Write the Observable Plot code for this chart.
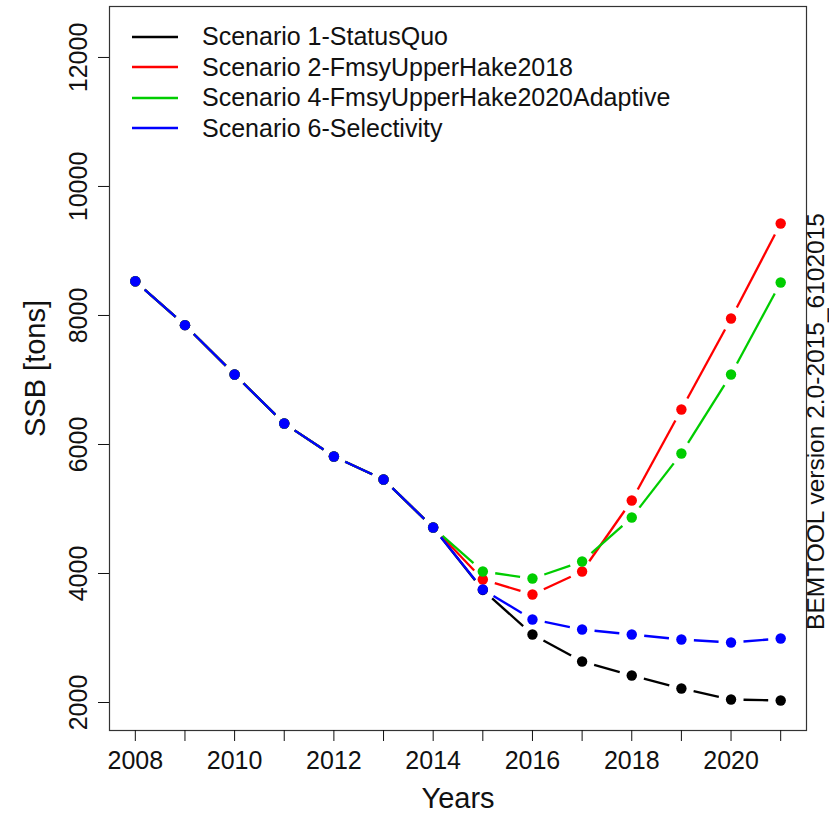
<!DOCTYPE html>
<html><head><meta charset="utf-8">
<script src="https://cdn.jsdelivr.net/npm/d3@7"></script>
<script src="https://cdn.jsdelivr.net/npm/@observablehq/plot@0.6"></script>
<style>
html,body{margin:0;padding:0;background:#fff;overflow:hidden}
#wrap{position:relative;width:829px;height:820px;font-family:"Liberation Sans",Arial,sans-serif}
#legend{position:absolute;left:132px;top:21.8px}
.row{display:flex;align-items:center;height:30.4px;font-size:25px;color:#111;white-space:nowrap}
.row svg{margin-right:24px;display:block}
</style></head><body><div id="wrap"><div id="legend"></div></div>
<script>
const years = [2008,2009,2010,2011,2012,2013,2014,2015,2016,2017,2018,2019,2020,2021];
const scenarioNames = ["Scenario 1-StatusQuo","Scenario 2-FmsyUpperHake2018","Scenario 4-FmsyUpperHake2020Adaptive","Scenario 6-Selectivity"];
const scenarioColors = ["#000000","#FF0000","#00CD00","#0000FF"];
const scenario1 = [8530,7850,7085,6326,5814,5457,4713,3745,3054,2636,2419,2217,2047,2031];
const scenario2 = [8530,7850,7085,6326,5814,5457,4713,3907,3674,4031,5132,6543,7953,9426];
const scenario4 = [8530,7850,7085,6326,5814,5457,4713,4031,3922,4186,4868,5860,7085,8512];
const scenario6 = [8530,7850,7085,6326,5814,5457,4713,3752,3287,3132,3054,2977,2930,2992];
const yTicks = [2000,4000,6000,8000,10000,12000];
const xLabels = [2008,2010,2012,2014,2016,2018,2020];
const xLabelText = "Years";
const yLabelText = "SSB [tons]";
const sideText = "BEMTOOL version 2.0-2015_6102015";

const allSeries = [scenario1, scenario2, scenario4, scenario6];
const marks = [Plot.frame({stroke:"#333", strokeWidth:1.2})];
allSeries.forEach((vals, i) => {
  const pts = years.map((yr, j) => ({year: yr, ssb: vals[j]}));
  const segs = years.slice(1).map((yr, j) => ({x1: years[j], y1: vals[j], x2: yr, y2: vals[j + 1]}));
  // R type="b": segments stop short of each point
  marks.push(Plot.arrow(segs, {x1:"x1", y1:"y1", x2:"x2", y2:"y2", stroke: scenarioColors[i], strokeWidth: 2.3, headLength: 0, bend: 0, insetStart: 12.5, insetEnd: 12.5, strokeLinecap: "butt"}));
  marks.push(Plot.dot(pts, {x:"year", y:"ssb", fill: scenarioColors[i], r: 5.2}));
});
marks.push(
  Plot.axisX({ticks: years, tickSize: 11, tickPadding: 10, tickFormat: d => xLabels.includes(d) ? String(d) : "", label: null}),
  Plot.axisY({ticks: yTicks, tickSize: 11, tickFormat: () => "", label: null}),
  Plot.text(yTicks, {y: d => d, text: d => String(d), frameAnchor: "left", dx: -31, rotate: -90, fontSize: 25, textAnchor: "middle"}),
  Plot.text([xLabelText], {text: d => d, frameAnchor: "bottom", dy: 77, fontSize: 29, textAnchor: "middle"}),
  Plot.text([yLabelText], {text: d => d, frameAnchor: "left", dx: -74, rotate: -90, fontSize: 29, textAnchor: "middle"}),
  Plot.text([sideText], {text: d => d, frameAnchor: "right", dx: 10, dy: 53, rotate: -90, fontSize: 24.5, textAnchor: "middle"})
);

const plot = Plot.plot({
  width: 829, height: 820,
  marginLeft: 109, marginRight: 23, marginTop: 6, marginBottom: 90,
  x: {domain: [2007.48, 2021.52]},
  y: {domain: [1566, 12790]},
  style: {fontFamily: '"Liberation Sans", Arial, sans-serif', fontSize: "25px", color: "#111", background: "#fff"},
  marks
});
document.getElementById("wrap").appendChild(plot);

// legend
const legend = document.getElementById("legend");
scenarioNames.forEach((name, i) => {
  const row = document.createElement("div");
  row.className = "row";
  row.innerHTML = `<svg width="46" height="4"><line x1="0" x2="46" y1="2" y2="2" stroke="${scenarioColors[i]}" stroke-width="2.4"/></svg><span></span>`;
  row.querySelector("span").textContent = name;
  legend.appendChild(row);
});
</script></body></html>
